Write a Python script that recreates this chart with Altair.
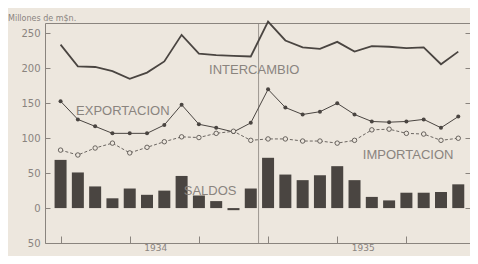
import altair as alt
import pandas as pd

# Monthly values, 1934-1935 (millions of m$n.)
months = list(range(24))
years = ["1934", "1935"]
saldos = [69, 51, 31, 14, 28, 19, 25, 46, 18, 10, -3, 28,
          72, 48, 40, 47, 60, 40, 16, 11, 22, 22, 23, 34]
exportacion = [153, 127, 117, 107, 107, 107, 119, 148, 120, 115, 109, 122,
               170, 144, 134, 138, 150, 134, 124, 123, 124, 127, 115, 131]
importacion = [83, 76, 86, 93, 79, 87, 95, 102, 101, 107, 110, 97,
               99, 99, 96, 96, 93, 97, 112, 113, 107, 106, 97, 100]
intercambio = [234, 203, 202, 196, 185, 194, 210, 248, 221, 219, 218, 217,
               267, 240, 230, 228, 238, 224, 232, 231, 229, 230, 206, 224]
y_ticks = [-50, 0, 50, 100, 150, 200, 250]

df = pd.DataFrame({"mes": months, "saldo": saldos, "exp": exportacion,
                   "imp": importacion, "int": intercambio})
year_df = pd.DataFrame({"year": years,
                        "mid": [sum(months[:12]) / 12, sum(months[12:]) / 12]})

BG = "#ede7de"
INK = "#4a4541"
GRAY = "#8a847e"
FONT = "Liberation Sans"
TFONT = "DejaVu Sans"
W, H = 425, 220

xscale = alt.Scale(domain=[-0.611, 23.389], nice=False, zero=False)
yscale = alt.Scale(domain=[-50, 265], nice=False, zero=False)

xaxis = alt.Axis(values=months, labels=False, tickSize=7, offset=-7, domain=False,
                 grid=False, title=None, tickColor=GRAY)
yleft = alt.Axis(values=y_ticks, labelExpr="format(abs(datum.value), 'd')",
                 tickSize=5, offset=-5, domain=False, grid=False, labelPadding=5,
                 title=None, tickColor=GRAY, labelColor=GRAY, labelFont=TFONT,
                 labelFontSize=10)
yright = alt.Axis(values=y_ticks, orient="right", labels=False, tickSize=5, offset=-5,
                  domain=False, grid=False, title=None, tickColor=GRAY)

X = alt.X("mes:Q", scale=xscale, axis=xaxis)
base = alt.Chart(df)

bars = base.mark_bar(width=12, color=INK).encode(
    x=X, y=alt.Y("saldo:Q", scale=yscale, axis=yleft), y2=alt.datum(0))
inter = base.mark_line(color=INK, strokeWidth=1.8).encode(
    x=X, y=alt.Y("int:Q", scale=yscale, axis=yright))
exp_line = base.mark_line(color=INK, strokeWidth=1).encode(
    x=X, y=alt.Y("exp:Q", scale=yscale, axis=None))
exp_pts = base.mark_point(shape="circle", filled=True, size=16, color=INK, opacity=1).encode(
    x=X, y=alt.Y("exp:Q", scale=yscale, axis=None))
imp_line = base.mark_line(color=INK, strokeWidth=0.8, strokeDash=[3, 2]).encode(
    x=X, y=alt.Y("imp:Q", scale=yscale, axis=None))
imp_pts = base.mark_point(shape="circle", filled=False, fill=BG, fillOpacity=1, stroke=INK,
                          strokeWidth=0.8, size=20, opacity=1).encode(
    x=X, y=alt.Y("imp:Q", scale=yscale, axis=None))

year_txt = alt.Chart(year_df).mark_text(font=TFONT, fontSize=9, color=GRAY,
                                         baseline="top").encode(
    x=alt.X("mid:Q", scale=xscale, axis=xaxis), y=alt.value(H + 1), text="year:N")

one = alt.Data(values=[{}])
sep = alt.Chart(one).mark_rule(color=GRAY, strokeWidth=0.8).encode(x=alt.XDatum(11.45))


def label(text, xv, yv, size=13):
    return alt.Chart(one).mark_text(text=text, font=FONT, fontSize=size, color=GRAY).encode(
        x=alt.XDatum(xv), y=alt.YDatum(yv, axis=None))


t_int = label("INTERCAMBIO", 11.2, 198)
t_exp = label("EXPORTACION", 3.6, 139)
t_imp = label("IMPORTACION", 20.1, 76)
t_sal = label("SALDOS", 8.65, 24)
t_unit = alt.Chart(one).mark_text(text="Millones de m$n.", font=TFONT, fontSize=8,
                                   color=GRAY, align="left", baseline="alphabetic").encode(
    x=alt.value(-37), y=alt.value(-2))

chart = alt.layer(
    bars, sep, inter, exp_line, imp_line, exp_pts, imp_pts, year_txt,
    t_int, t_exp, t_imp, t_sal, t_unit
).resolve_axis(y="independent").properties(
    width=W, height=H,
    autosize=alt.AutoSizeParams(type="none"),
    padding={"left": 37, "top": 15, "right": 0, "bottom": 13},
    background=BG,
).configure_view(stroke=GRAY, strokeWidth=1)

chart.save("out.html", embed_options={"renderer": "svg", "actions": False})
